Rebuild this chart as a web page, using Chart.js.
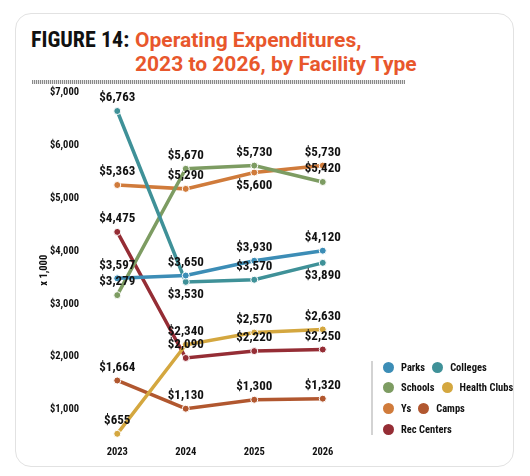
<!DOCTYPE html>
<html><head><meta charset="utf-8">
<script src="https://cdn.jsdelivr.net/npm/chart.js@4/dist/chart.umd.min.js"></script>
<style>
html,body{margin:0;padding:0;background:#fff;width:530px;height:476px;overflow:hidden;}
#card{position:absolute;left:15px;top:13px;width:497px;height:452px;border:1.5px solid #e2e2e2;border-radius:16px;background:#fff;}
.t{position:absolute;font-weight:bold;white-space:nowrap;line-height:24px;}
#t1{left:31px;top:28px;font-family:"Roboto Condensed","Roboto",sans-serif;font-size:22px;color:#111;}
#t2{left:135px;top:28px;font-family:"Roboto",sans-serif;font-size:21px;color:#e8572c;}
#t3{left:135px;top:52px;font-family:"Roboto",sans-serif;font-size:21px;color:#e8572c;}
#hatch{position:absolute;left:32px;top:80px;width:373px;height:4px;background:repeating-linear-gradient(90deg,#8a8a8a 0 1px,#e6e6e6 1px 2px);}
#wrap{position:absolute;left:0;top:0;width:530px;height:476px;}
#legend{position:absolute;left:371px;top:361px;width:140px;border-left:2px solid #d3d3d3;padding-left:10px;display:flex;flex-wrap:wrap;row-gap:8.7px;font-family:"Roboto Condensed","Roboto",sans-serif;font-weight:bold;font-size:10.5px;color:#111;}
#legend .it{display:flex;align-items:center;height:12px;margin-right:7px;}
#legend .dot{width:11px;height:11px;border-radius:50%;margin-right:7px;}
</style></head>
<body>
<div id="card"></div>
<div class="t" id="t1">FIGURE 14:</div>
<div class="t" id="t2">Operating Expenditures,</div>
<div class="t" id="t3">2023 to 2026, by Facility Type</div>
<div id="hatch"></div>
<div id="wrap"><canvas id="c" width="530" height="476"></canvas></div>
<div id="legend"></div>
<script>
const years = ["2023","2024","2025","2026"];
const seriesNames = ["Parks","Colleges","Schools","Health Clubs","Ys","Camps","Rec Centers"];
const parks = [3597,3650,3930,4120];
const colleges = [6763,3530,3570,3890];
const schools = [3279,5670,5730,5420];
const healthClubs = [655,2340,2570,2630];
const ys = [5363,5290,5600,5730];
const camps = [1664,1130,1300,1320];
const recCenters = [4475,2090,2220,2250];
const yTicks = [1000,2000,3000,4000,5000,6000,7000];

const colors = ["#3c8db6","#3f9198","#7d9c62","#d4a73f","#d07b3b","#b1572f","#952d35"];
const values = [parks,colleges,schools,healthClubs,ys,camps,recCenters];
// labels drawn below the point (series index -> point indices)
const below = {1:[1,3],4:[2]};

const FONT = '"Roboto Condensed","Roboto",sans-serif';

const labelPlugin = {
  id:'vlabels',
  afterDatasetsDraw(chart){
    const ctx = chart.ctx;
    ctx.save();
    ctx.font = 'bold 13px ' + FONT;
    ctx.fillStyle = '#111';
    ctx.textAlign = 'center';
    ctx.textBaseline = 'middle';
    chart.data.datasets.forEach((ds,di)=>{
      const meta = chart.getDatasetMeta(di);
      meta.data.forEach((pt,i)=>{
        const v = ds.data[i];
        const txt = '$' + v.toLocaleString('en-US');
        const isBelow = below[di] && below[di].includes(i);
        ctx.fillText(txt, pt.x, pt.y + (isBelow ? 13 : -13));
      });
    });
    ctx.restore();
  }
};

const datasets = seriesNames.map((n,i)=>({
  label:n, data:values[i], borderColor:colors[i], backgroundColor:colors[i],
  borderWidth:3.5, pointRadius:3.5, pointBorderColor:'#fff', pointBorderWidth:1,
  pointBackgroundColor:colors[i], tension:0, clip:false
}));

new Chart(document.getElementById('c'),{
  type:'line',
  data:{labels:years, datasets},
  plugins:[labelPlugin],
  options:{
    responsive:false, animation:false, devicePixelRatio:1,
    layout:{padding:{left:34,top:98.5,right:173,bottom:4}},
    plugins:{legend:{display:false},tooltip:{enabled:false}},
    scales:{
      x:{offset:true,grid:{display:false,drawTicks:false},border:{display:false},
        ticks:{color:'#111',font:{family:FONT,weight:'bold',size:10.5},padding:4},
        afterFit(s){s.height=30;}},
      y:{min:500,max:7000,grid:{display:false,drawTicks:false},border:{display:false},
        afterBuildTicks(s){s.ticks=yTicks.map(v=>({value:v}));},
        ticks:{color:'#111',font:{family:FONT,weight:'bold',size:10.5},padding:4,labelOffset:-6,
          callback:(v)=>'$'+Number(v).toLocaleString('en-US')},
        title:{display:true,text:'x 1,000',color:'#111',font:{family:FONT,weight:'bold',size:10.5}},
        afterFit(s){s.width=49;}}
    }
  }
});

const lg = document.getElementById('legend');
seriesNames.forEach((n,i)=>{
  const d = document.createElement('div'); d.className='it';
  d.innerHTML = '<span class="dot" style="background:'+colors[i]+'"></span>'+n;
  lg.appendChild(d);
});
</script>
</body></html>
